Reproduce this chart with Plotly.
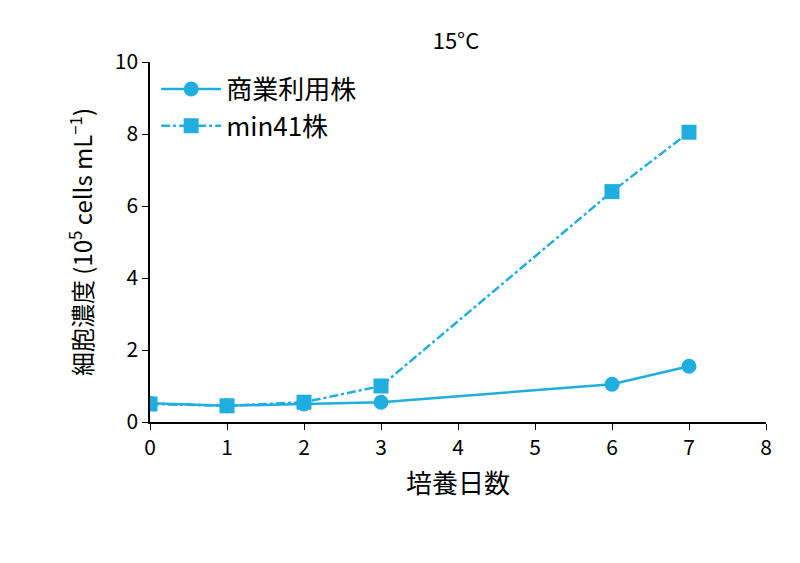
import plotly.graph_objects as go

days = [0, 1, 2, 3, 6, 7]
commercial = [0.52, 0.45, 0.50, 0.55, 1.05, 1.55]
min41 = [0.50, 0.45, 0.55, 1.00, 6.40, 8.05]

color = "#1FAEDF"
font = "Noto Sans CJK JP"

fig = go.Figure()
fig.add_trace(go.Scatter(
    x=days, y=commercial, name="商業利用株", mode="lines+markers",
    line=dict(color=color, width=2.5),
    marker=dict(symbol="circle", size=15, color=color),
))
fig.add_trace(go.Scatter(
    x=days, y=min41, name="min41株", mode="lines+markers",
    line=dict(color=color, width=2.5, dash="dashdot"),
    marker=dict(symbol="square", size=15, color=color),
))

fig.update_layout(
    width=800, height=563,
    margin=dict(l=142, r=42, t=54, b=149),
    plot_bgcolor="white", paper_bgcolor="white",
    font=dict(family=font, size=21, color="black"),
    title=dict(text="15°C", x=0.56, xanchor="center", y=0.955, font=dict(size=22)),
    legend=dict(x=0.01, y=0.99, xanchor="left", yanchor="top", tracegroupgap=0,
                font=dict(size=26), bgcolor="rgba(0,0,0,0)", itemwidth=60),
    xaxis=dict(range=[0, 8], dtick=1, showline=True, linecolor="black", linewidth=1.5,
               ticks="outside", ticklen=6, tickcolor="black", showgrid=False, zeroline=False,
               title=dict(text="培養日数", font=dict(size=26))),
    yaxis=dict(range=[0, 10], dtick=2, showline=True, linecolor="black", linewidth=1.5,
               ticks="outside", ticklen=6, tickcolor="black", showgrid=False, zeroline=False,
               title=dict(text="細胞濃度 (10<sup>5</sup> cells mL<sup>−1</sup>)", font=dict(size=24))),
)

fig.write_html("out.html")
